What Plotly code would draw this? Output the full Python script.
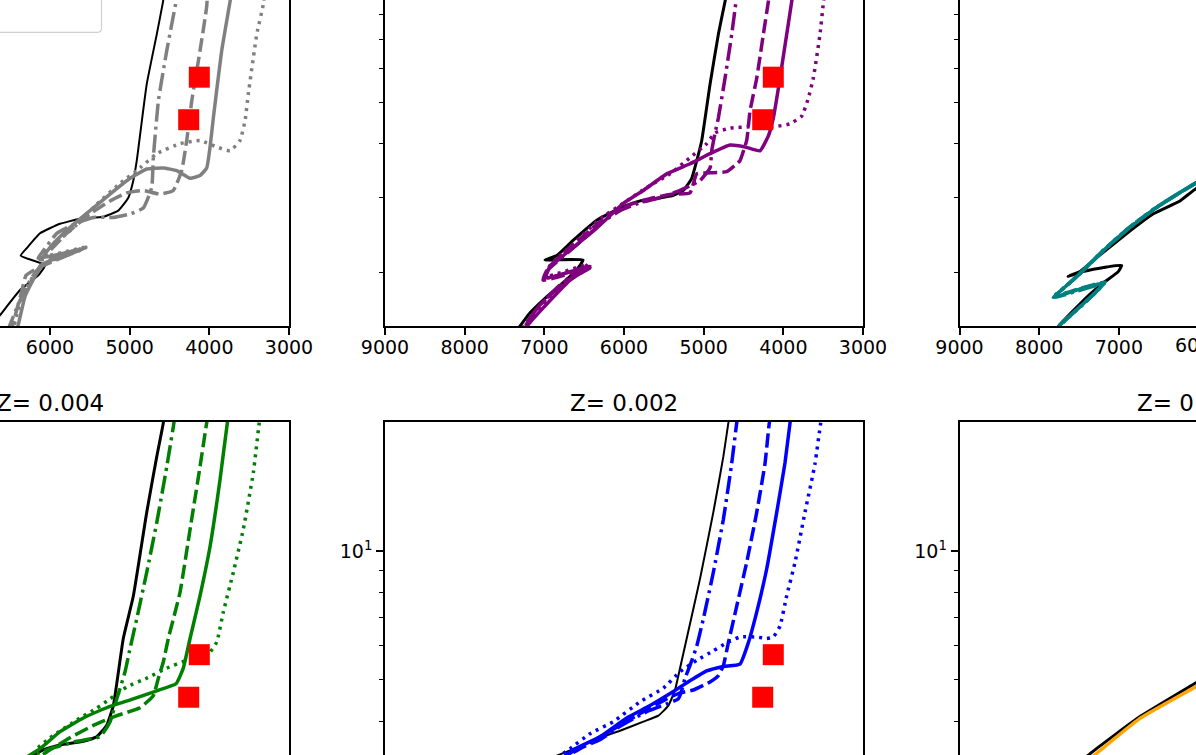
import math
import plotly.graph_objects as go

W, H = 1196, 755

# ---- top-left panel (gray) ----
tl_black_T = [4544, 4581, 4660, 4786, 4911, 4954, 5017, 5142, 5331, 5623, 5874, 6125, 6292, 6367, 6062, 6146, 6376, 6627, 6778]
tl_black_L = [9.57, 8.59, 7.20, 5.51, 3.65, 3.28, 2.99, 2.79, 2.70, 2.67, 2.60, 2.47, 2.28, 2.19, 2.08, 1.97, 1.82, 1.59, 1.47]
tl_solid_T = [3700, 3740, 3845, 3950, 3991, 4033, 4117, 4242, 4409, 4577, 4786, 4995, 5246, 5497, 5790, 5999, 6087, 5598, 6074, 6188, 6313, 6402, 6439]
tl_solid_L = [9.57, 8.59, 6.59, 4.59, 3.93, 3.51, 3.37, 3.32, 3.46, 3.51, 3.49, 3.32, 3.05, 2.79, 2.51, 2.29, 2.17, 2.27, 2.10, 1.96, 1.76, 1.50, 1.43]
tl_dash_T = [4017, 4033, 4117, 4221, 4284, 4347, 4452, 4619, 4829, 5037, 5246, 5497, 5790, 6041, 6125, 5548, 6150, 6301, 6351, 6451, 6501]
tl_dash_L = [9.57, 8.37, 6.59, 5.03, 4.07, 3.46, 3.11, 3.05, 3.11, 3.07, 2.94, 2.74, 2.47, 2.21, 2.14, 2.29, 2.05, 1.97, 1.82, 1.55, 1.43]
tl_dashdot_T = [4380, 4418, 4535, 4640, 4703, 4723, 4829, 4995, 5205, 5456, 5664, 5915, 6083, 6150, 5623, 6100, 6250, 6402, 6527]
tl_dashdot_L = [9.57, 8.59, 6.59, 5.03, 3.71, 3.16, 2.83, 2.74, 2.69, 2.69, 2.61, 2.47, 2.25, 2.16, 2.25, 2.09, 1.92, 1.68, 1.47]
tl_dot_T = [3290, 3323, 3405, 3511, 3552, 3615, 3740, 3907, 4117, 4368, 4660, 4870, 5121, 5413, 5707, 5999, 6100, 5523, 6125, 6276, 6402, 6477]
tl_dot_L = [9.57, 8.45, 7.20, 5.22, 4.52, 4.07, 3.85, 3.93, 4.07, 4.00, 3.79, 3.51, 3.23, 2.89, 2.54, 2.29, 2.18, 2.30, 2.07, 1.87, 1.63, 1.43]

# ---- top-middle panel (purple) ----
tm_black_T = [4680, 4732, 4816, 4920, 5024, 5087, 5150, 5255, 5401, 5548, 5799, 6050, 6342, 6636, 6844, 6991, 6514, 6577, 6727, 6978, 7179, 7305, 7405]
tm_black_L = [9.57, 8.59, 7.20, 5.51, 4.07, 3.65, 3.32, 3.11, 3.02, 2.99, 2.94, 2.83, 2.65, 2.38, 2.19, 2.14, 2.14, 2.05, 1.92, 1.75, 1.61, 1.50, 1.43]
tm_solid_T = [3860, 3895, 3958, 4042, 4126, 4188, 4293, 4481, 4669, 4920, 5171, 5464, 5757, 6008, 6342, 6636, 6928, 6991, 6426, 6552, 6677, 6928, 7179, 7305]
tm_solid_L = [9.57, 8.59, 7.20, 5.69, 4.59, 4.17, 3.85, 3.93, 3.97, 3.79, 3.59, 3.40, 3.11, 2.90, 2.54, 2.29, 2.06, 1.94, 2.07, 1.99, 1.92, 1.72, 1.53, 1.43]
tm_dash_T = [4150, 4188, 4251, 4334, 4418, 4460, 4544, 4585, 4711, 4920, 5087, 5171, 5381, 5632, 5883, 6175, 6351, 6652, 6953, 7016, 6426, 6740, 7054, 7242, 7330]
tm_dash_L = [9.57, 8.59, 7.20, 5.69, 4.77, 4.07, 3.65, 3.59, 3.44, 3.42, 3.40, 3.07, 3.05, 2.99, 2.90, 2.74, 2.58, 2.31, 2.05, 1.92, 2.05, 1.90, 1.68, 1.50, 1.43]
tm_dashdot_T = [4561, 4594, 4648, 4732, 4816, 4857, 4899, 4920, 5046, 5297, 5548, 5799, 6050, 6301, 6363, 6677, 6953, 6991, 6489, 6803, 7091, 7254, 7350]
tm_dashdot_L = [9.57, 8.59, 7.20, 5.69, 4.59, 4.24, 3.85, 3.51, 3.28, 3.11, 2.99, 2.91, 2.79, 2.60, 2.53, 2.25, 2.03, 1.94, 2.05, 1.87, 1.65, 1.50, 1.43]
tm_dot_T = [3469, 3498, 3540, 3624, 3686, 3769, 3916, 4126, 4418, 4669, 4857, 4962, 5171, 5422, 5715, 5966, 6301, 6640, 6928, 6978, 6451, 6702, 6953, 7204, 7254]
tm_dot_L = [9.57, 8.52, 7.20, 5.69, 5.11, 4.64, 4.45, 4.38, 4.38, 4.35, 4.24, 4.00, 3.71, 3.40, 3.16, 2.94, 2.67, 2.33, 2.08, 1.96, 2.09, 1.94, 1.74, 1.53, 1.47]

# ---- top-right panel (teal) ----
tr_black_T = [5605, 6032, 6233, 6572, 6898, 7274, 7488, 7638, 7450, 7153, 6964, 7007, 7195, 7404, 7739, 7800]
tr_black_L = [3.42, 3.14, 2.94, 2.74, 2.47, 2.17, 2.01, 1.96, 2.01, 2.06, 2.08, 2.01, 1.89, 1.75, 1.51, 1.44]
tr_solid_T = [5605, 6032, 6525, 6860, 7195, 7488, 7676, 7823, 7529, 7195, 7278, 7446, 7739, 7864]
tr_solid_L = [3.59, 3.24, 2.84, 2.55, 2.25, 1.99, 1.85, 1.75, 1.82, 1.89, 1.81, 1.69, 1.51, 1.41]
tr_dash_T = [5620, 6050, 6540, 6880, 7210, 7500, 7690, 7800, 7510, 7170, 7260, 7430, 7720, 7850]
tr_dash_L = [3.57, 3.22, 2.83, 2.54, 2.24, 1.98, 1.84, 1.76, 1.83, 1.90, 1.82, 1.70, 1.52, 1.42]
tr_dashdot_T = [5590, 6020, 6510, 6850, 7180, 7470, 7660, 7810, 7520, 7210, 7290, 7460, 7750, 7870]
tr_dashdot_L = [3.60, 3.25, 2.85, 2.56, 2.26, 2.00, 1.86, 1.75, 1.81, 1.88, 1.80, 1.68, 1.50, 1.40]
tr_dot_T = [5610, 6040, 6530, 6870, 7200, 7490, 7680, 7815, 7540, 7180, 7270, 7440, 7730, 7860]
tr_dot_L = [3.58, 3.23, 2.84, 2.55, 2.25, 1.99, 1.85, 1.76, 1.82, 1.89, 1.81, 1.69, 1.51, 1.41]

# ---- bottom-left panel (green, Z=0.004) ----
bl_black_T = [4569, 4578, 4660, 4786, 4954, 5080, 5205, 5289, 5413, 5582, 5874, 6083, 6313]
bl_black_L = [20.8, 19.9, 16.6, 12.3, 7.84, 6.24, 4.35, 3.91, 3.68, 3.59, 3.52, 3.43, 3.26]
bl_solid_T = [3753, 3774, 3866, 3991, 4117, 4242, 4327, 4418, 4660, 4954, 5246, 5582, 5874, 6125, 6313]
bl_solid_L = [20.8, 19.9, 14.65, 10.24, 7.85, 6.24, 5.32, 4.89, 4.71, 4.51, 4.33, 4.07, 3.78, 3.45, 3.28]
bl_dash_T = [4010, 4033, 4117, 4242, 4368, 4515, 4578, 4640, 4703, 4870, 5162, 5456, 5749, 5999, 6188]
bl_dash_L = [20.8, 19.9, 15.72, 11.22, 8.0, 6.24, 5.50, 5.04, 4.59, 4.30, 4.12, 3.91, 3.66, 3.43, 3.25]
bl_dashdot_T = [4430, 4452, 4535, 4660, 4786, 4911, 4995, 5058, 5162, 5246, 5372, 5664, 5999, 6250]
bl_dashdot_L = [20.8, 19.5, 15.7, 11.64, 8.91, 6.94, 5.92, 5.22, 4.51, 3.99, 3.68, 3.59, 3.45, 3.31]
bl_dot_T = [3351, 3373, 3448, 3574, 3699, 3825, 3907, 4033, 4284, 4535, 4786, 5037, 5246, 5413, 5623, 5999, 6166]
bl_dot_L = [20.8, 19.9, 15.21, 11.22, 8.91, 7.19, 6.12, 5.68, 5.55, 5.32, 5.04, 4.81, 4.51, 4.29, 4.07, 3.66, 3.45]

# ---- bottom-middle panel (blue, Z=0.002) ----
bm_black_T = [4669, 4690, 4753, 4879, 5046, 5213, 5297, 5360, 5443, 5569, 5757, 6050, 6301, 6426, 6677, 6865]
bm_black_L = [20.8, 19.9, 16.6, 12.3, 8.6, 6.24, 5.32, 4.73, 4.35, 4.12, 3.99, 3.80, 3.66, 3.58, 3.42, 3.31]
bm_solid_T = [3895, 3916, 3979, 4083, 4209, 4334, 4439, 4544, 4753, 4962, 5171, 5381, 5673, 5966, 6301, 6636, 6803]
bm_solid_L = [20.8, 19.9, 16.06, 12.3, 9.07, 7.19, 6.1, 5.44, 5.37, 5.24, 4.97, 4.69, 4.35, 4.07, 3.68, 3.43, 3.25]
bm_dash_T = [4155, 4176, 4230, 4334, 4460, 4585, 4690, 4753, 4816, 4920, 5130, 5297, 5464, 5757, 6050, 6301, 6552, 6803]
bm_dash_L = [20.8, 19.9, 16.0, 12.3, 9.40, 7.43, 6.1, 5.39, 5.11, 4.94, 4.73, 4.66, 4.51, 4.21, 3.91, 3.68, 3.45, 3.25]
bm_dashdot_T = [4565, 4585, 4648, 4753, 4879, 5004, 5087, 5171, 5234, 5275, 5318, 5464, 5715, 6050, 6301, 6615, 6803]
bm_dashdot_L = [20.8, 19.9, 16.0, 11.84, 8.9, 6.94, 5.99, 5.40, 5.04, 4.72, 4.51, 4.39, 4.21, 3.89, 3.62, 3.42, 3.25]
bm_dot_T = [3510, 3531, 3602, 3728, 3853, 3958, 4042, 4126, 4209, 4334, 4544, 4711, 4879, 5087, 5297, 5506, 5799, 6134, 6426, 6677, 6865]
bm_dot_L = [20.8, 19.9, 16.0, 12.3, 9.40, 7.85, 6.67, 6.29, 6.24, 6.29, 6.29, 6.1, 5.84, 5.55, 5.22, 4.78, 4.44, 3.99, 3.74, 3.45, 3.26]

# ---- bottom-right panel (orange) ----
br_black_T = [5480, 6032, 6735, 7325, 7613]
br_black_L = [5.71, 4.92, 4.10, 3.40, 3.07]
br_solid_T = [5480, 6032, 6735, 7299, 7588]
br_solid_L = [5.64, 4.82, 4.06, 3.34, 3.01]

# observed stars (red squares)
star_T = [4126, 4259]
star_L = [5.72, 4.55]

x_ticks = [3000, 4000, 5000, 6000, 7000, 8000, 9000]
minor_ticks = [2, 3, 4, 5, 6, 7, 8, 9]
titles = {"bl": "Z= 0.004", "bm": "Z= 0.002", "br": "Z= 0.0005"}

FONT = "DejaVu Sans"
DASH = "14px,5px"
DASHDOT = "18px,5px,3px,5px"
DOT = "3px,5px"
LW = 3.5

# pixel extents of the full (uncropped) axes boxes
cols = {"l": (-189, 289), "m": (385, 863), "r": (959.5, 1437.5)}
rows = {"t": (-155.5, 326), "b": (422, 903.5)}


def x_window(left, right):
    a, b = max(left, 0), min(right, W)
    f = lambda p: 9000 + (p - left) * (3000 - 9000) / (right - left)
    return [a / W, b / W], [f(a), f(b)]


def y_window(top, bottom):
    a, b = max(top, 0), min(bottom, H)
    lo, hi = math.log10(1.5), math.log10(20)
    f = lambda p: hi + (p - top) * (lo - hi) / (bottom - top)
    return [1 - b / H, 1 - a / H], [f(b), f(a)]


fig = go.Figure()
panels = [("t", "l"), ("t", "m"), ("t", "r"), ("b", "l"), ("b", "m"), ("b", "r")]
axis_ids = {}
for i, (r, c) in enumerate(panels, start=1):
    sfx = "" if i == 1 else str(i)
    axis_ids[r + c] = sfx
    xdom, xrng = x_window(*cols[c])
    ydom, yrng = y_window(*rows[r])

    xa = dict(domain=xdom, range=xrng, anchor="y" + sfx, showgrid=False, zeroline=False,
              showline=True, linecolor="black", linewidth=1.5, mirror=False)
    if r == "t":
        xa.update(side="bottom", ticks="outside", ticklen=7, tickwidth=1.5, tickcolor="black",
                  tickmode="array", tickvals=x_ticks, ticktext=[str(v) for v in x_ticks],
                  tickfont=dict(family=FONT, size=19, color="black"), ticklabelstandoff=-4)
    else:
        xa.update(side="top", ticks="", showticklabels=False)

    ya = dict(type="log", domain=ydom, range=yrng, anchor="x" + sfx, showgrid=False,
              zeroline=False, showline=True, linecolor="black", linewidth=1.5)
    if c == "l":
        ya.update(side="right", ticks="", showticklabels=False)
    else:
        ya.update(side="left", mirror=(c == "m"), ticks="outside", ticklen=7, tickwidth=1.5,
                  tickcolor="black", tickmode="array", tickvals=[10], ticktext=["10<sup>1</sup>"],
                  tickfont=dict(family=FONT, size=19, color="black"),
                  minor=dict(tickmode="array", tickvals=minor_ticks, ticks="outside",
                             ticklen=4, tickwidth=1.2, tickcolor="black"))
    fig.layout["xaxis" + sfx] = xa
    fig.layout["yaxis" + sfx] = ya


def add_line(panel, T, L, color, width, dash="solid"):
    sfx = axis_ids[panel]
    fig.add_trace(go.Scatter(x=T, y=L, mode="lines", xaxis="x" + sfx, yaxis="y" + sfx,
                             line=dict(color=color, width=width, dash=dash,
                                       shape="spline", smoothing=0.4),
                             hoverinfo="skip", showlegend=False))


def add_stars(panel):
    sfx = axis_ids[panel]
    fig.add_trace(go.Scatter(x=star_T, y=star_L, mode="markers", xaxis="x" + sfx, yaxis="y" + sfx,
                             marker=dict(symbol="square", size=21, color="red", line=dict(width=0)),
                             hoverinfo="skip", showlegend=False))


# top-left
add_line("tl", tl_black_T, tl_black_L, "black", 2)
add_line("tl", tl_solid_T, tl_solid_L, "gray", LW)
add_line("tl", tl_dash_T, tl_dash_L, "gray", LW, DASH)
add_line("tl", tl_dashdot_T, tl_dashdot_L, "gray", LW, DASHDOT)
add_line("tl", tl_dot_T, tl_dot_L, "gray", LW, DOT)
add_stars("tl")

# top-middle
add_line("tm", tm_black_T, tm_black_L, "black", 3)
add_line("tm", tm_solid_T, tm_solid_L, "purple", LW)
add_line("tm", tm_dash_T, tm_dash_L, "purple", LW, DASH)
add_line("tm", tm_dashdot_T, tm_dashdot_L, "purple", LW, DASHDOT)
add_line("tm", tm_dot_T, tm_dot_L, "purple", LW, DOT)
add_stars("tm")

# top-right
add_line("tr", tr_black_T, tr_black_L, "black", 3)
add_line("tr", tr_solid_T, tr_solid_L, "teal", LW)
add_line("tr", tr_dash_T, tr_dash_L, "teal", LW, DASH)
add_line("tr", tr_dashdot_T, tr_dashdot_L, "teal", LW, DASHDOT)
add_line("tr", tr_dot_T, tr_dot_L, "teal", LW, DOT)

# bottom-left
add_line("bl", bl_black_T, bl_black_L, "black", 3)
add_line("bl", bl_solid_T, bl_solid_L, "green", LW)
add_line("bl", bl_dash_T, bl_dash_L, "green", LW, DASH)
add_line("bl", bl_dashdot_T, bl_dashdot_L, "green", LW, DASHDOT)
add_line("bl", bl_dot_T, bl_dot_L, "green", LW, DOT)
add_stars("bl")

# bottom-middle
add_line("bm", bm_black_T, bm_black_L, "black", 2)
add_line("bm", bm_solid_T, bm_solid_L, "blue", LW)
add_line("bm", bm_dash_T, bm_dash_L, "blue", LW, DASH)
add_line("bm", bm_dashdot_T, bm_dashdot_L, "blue", LW, DASHDOT)
add_line("bm", bm_dot_T, bm_dot_L, "blue", LW, DOT)
add_stars("bm")

# bottom-right
add_line("br", br_black_T, br_black_L, "black", 3)
add_line("br", br_solid_T, br_solid_L, "orange", LW)

# panel titles of the lower row (centred over each axes box)
for key, text in titles.items():
    left, right = cols[key[1]]
    fig.add_annotation(text=text, xref="paper", yref="paper", x=(left + right) / 2 / W,
                       y=1 - 418 / H, xanchor="center", yanchor="bottom", showarrow=False,
                       font=dict(family=FONT, size=23, color="black"))

# tick label of the right-hand top panel that is cut by the page edge
fig.add_annotation(text="6000", xref="paper", yref="paper", x=(959.5 + 3 * 79.67) / W,
                   y=1 - 332 / H, xanchor="center", yanchor="top", showarrow=False,
                   font=dict(family=FONT, size=19, color="black"))

# corner of the legend frame peeking in at the top-left
lx, ly = 101.5 / W, 1 - 32.3 / H
rx, ry = 4 / W, 4 / H
fig.add_shape(type="path", xref="paper", yref="paper",
              path=f"M -0.02,{ly} L {lx - rx},{ly} Q {lx},{ly} {lx},{ly + ry} L {lx},1.02",
              line=dict(color="#d0d0d0", width=1.2))

fig.update_layout(width=W, height=H, margin=dict(l=0, r=0, t=0, b=0), template="none",
                  paper_bgcolor="white", plot_bgcolor="white", showlegend=False,
                  font=dict(family=FONT, color="black"))

# the page body has a default 8px margin; drop it so the figure sits at the window corner
fig.write_html("out.html", config={"displayModeBar": False},
               post_script="document.body.style.margin='0';")
